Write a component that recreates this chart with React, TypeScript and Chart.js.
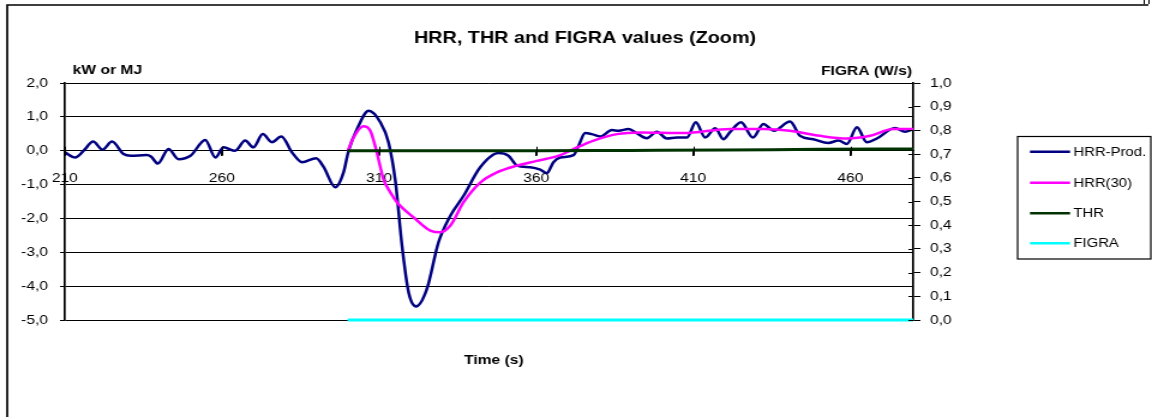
import React, { useEffect, useRef } from 'react';
import { Chart, registerables } from 'chart.js';

Chart.register(...registerables);

// ---------- data ----------
const hrrProdTime = [
  210, 213.3, 216, 219, 222, 225, 228.7, 231, 236, 237.5, 239.6, 243, 246.2, 250, 254.7, 257.9,
  260.5, 264.2, 267.4, 270, 273, 275.9, 278.9, 282.3, 285.5, 290, 292.3, 296.1, 298.7, 300.3,
  303, 306.7, 310.4, 313, 315.2, 317.3, 319.4, 321.8, 325.2, 328.9, 332.7, 336.9, 342.2, 348,
  351.2, 353.9, 358.1, 361.3, 363.4, 365.5, 367.7, 371.9, 373.5, 375.6, 377.7, 380.4, 384.1,
  386.2, 389.4, 392, 395.2, 398.4, 401.6, 404.8, 408, 410.8, 413.8, 417, 419.6, 421.7, 425.2,
  429, 432.3, 435.7, 440.8, 444, 448.2, 453, 456.2, 458.9, 462.1, 465.2, 468.4, 474.2, 477.4, 480,
];
const hrrProdValues = [
  -0.05, -0.2, 0.0, 0.27, 0.03, 0.27, -0.1, -0.15, -0.13, -0.18, -0.38, 0.05, -0.25, -0.15, 0.32, -0.2,
  0.1, 0.0, 0.3, 0.1, 0.49, 0.25, 0.42, -0.05, -0.34, -0.22, -0.47, -1.08, -0.64, 0.0,
  0.64, 1.18, 0.84, 0.25, -0.9, -2.8, -4.18, -4.6, -4.09, -2.71, -1.92, -1.33, -0.49, -0.07,
  -0.15, -0.44, -0.49, -0.56, -0.66, -0.34, -0.2, -0.13, 0.15, 0.52, 0.49, 0.42, 0.61,
  0.59, 0.64, 0.52, 0.37, 0.56, 0.36, 0.39, 0.39, 0.84, 0.39, 0.66, 0.34, 0.55, 0.84,
  0.39, 0.79, 0.59, 0.86, 0.44, 0.34, 0.23, 0.3, 0.2, 0.69, 0.25, 0.36, 0.67, 0.56, 0.64,
];

const hrr30Time = [
  300.1, 301.9, 305, 307.2, 309.3, 311.4, 313.6, 315.7, 321, 326.3, 329.5, 332.7, 336.9, 342.2,
  347.5, 353.9, 360.2, 367.7, 371.9, 378.3, 385.7, 393.1, 406.9, 421.7, 432.3, 440.8, 450.3,
  458.9, 466.3, 473.7, 480,
];
const hrr30Values = [
  0.0, 0.39, 0.72, 0.59, -0.05, -0.84, -1.23, -1.52, -1.97, -2.36, -2.41, -2.21, -1.52, -0.94,
  -0.64, -0.44, -0.3, -0.13, 0.05, 0.3, 0.49, 0.54, 0.52, 0.64, 0.64, 0.59, 0.44,
  0.36, 0.44, 0.64, 0.64,
];

const thrTime = [300, 330, 360, 390, 420, 450, 480];
const thrValues = [0, 0, 0, 0.01, 0.02, 0.04, 0.05];

const figraTime = [300, 360, 420, 480];
const figraValues = [0, 0, 0, 0];

const xTickValues = [210, 260, 310, 360, 410, 460];

const seriesNames = ['HRR-Prod.', 'HRR(30)', 'THR', 'FIGRA'];
const seriesColors = ['#000080', '#FF00FF', '#003300', '#00FFFF'];

const chartTitle = 'HRR, THR and FIGRA values (Zoom)';
const leftAxisTitle = 'kW or MJ';
const rightAxisTitle = 'FIGRA (W/s)';
const xAxisTitle = 'Time (s)';

// ---------- layout ----------
const INNER_W = 960;
const INNER_H = 417;
const OUTER_W = 1152;
const FONT = 'Arial, "Liberation Sans", sans-serif';

const toPoints = (xs: number[], ys: number[]) => xs.map((x, i) => ({ x, y: ys[i] }));
const comma = (v: number | string) => Number(v).toFixed(1).replace('.', ',');

const decorPlugin = {
  id: 'decor',
  beforeDraw(chart: any) {
    const ctx = chart.ctx;
    ctx.save();
    ctx.fillStyle = '#ffffff';
    ctx.fillRect(0, 0, chart.width, chart.height);
    ctx.strokeStyle = '#000';
    ctx.lineWidth = 1.7;
    ctx.beginPath();
    ctx.moveTo(6, INNER_H);
    ctx.lineTo(6, 5);
    ctx.lineTo(957, 5);
    ctx.stroke();
    ctx.lineWidth = 1;
    ctx.beginPath();
    ctx.moveTo(953.5, 0);
    ctx.lineTo(953.5, 4);
    ctx.moveTo(957.5, 0);
    ctx.lineTo(957.5, 4);
    ctx.stroke();
    ctx.restore();
  },
  afterDatasetsDraw(chart: any) {
    const ctx = chart.ctx;
    const xs = chart.scales.x;
    const ys = chart.scales.y;
    const y2 = chart.scales.y2;
    const y0 = ys.getPixelForValue(0);
    ctx.save();
    ctx.strokeStyle = '#000';
    ctx.lineWidth = 1;
    ctx.beginPath();
    xs.ticks.forEach((t: any) => {
      const px = Math.round(xs.getPixelForValue(t.value)) + 0.5;
      ctx.moveTo(px, y0 - 4);
      ctx.lineTo(px, y0 + 5);
    });
    y2.ticks.forEach((t: any) => {
      const py = Math.round(y2.getPixelForValue(t.value)) + 0.5;
      ctx.moveTo(y2.left - 4, py);
      ctx.lineTo(y2.left, py);
    });
    ctx.stroke();
    ctx.restore();
  },
  afterDraw(chart: any) {
    const ctx = chart.ctx;
    const area = chart.chartArea;
    ctx.save();
    ctx.fillStyle = '#000';
    ctx.textBaseline = 'alphabetic';

    ctx.font = `bold 16.5px ${FONT}`;
    ctx.textAlign = 'center';
    ctx.fillText(chartTitle, 487.5, 43);

    ctx.font = `bold 13px ${FONT}`;
    ctx.textAlign = 'left';
    ctx.fillText(leftAxisTitle, area.left + 6.6, 74);
    ctx.textAlign = 'right';
    ctx.fillText(rightAxisTitle, area.right - 1, 75);
    ctx.textAlign = 'center';
    ctx.fillText(xAxisTitle, (area.left + area.right) / 2 + 4, 364);

    // legend
    const bx = 848, by = 136.5, bw = 111, bh = 122.5;
    ctx.lineWidth = 1.2;
    ctx.strokeStyle = '#000';
    ctx.strokeRect(bx, by, bw, bh);
    const rows = [151.7, 182.7, 213.3, 243.3];
    ctx.font = `12.4px ${FONT}`;
    ctx.textAlign = 'left';
    ctx.textBaseline = 'middle';
    seriesNames.forEach((name, i) => {
      ctx.strokeStyle = seriesColors[i];
      ctx.lineWidth = 2.5;
      ctx.beginPath();
      ctx.moveTo(858.3, rows[i]);
      ctx.lineTo(891.7, rows[i]);
      ctx.stroke();
      ctx.fillStyle = '#000';
      ctx.fillText(name, 894.5, rows[i] + 0.5);
    });
    ctx.restore();
  },
};

export default function App() {
  const canvasRef = useRef<HTMLCanvasElement | null>(null);

  useEffect(() => {
    if (!canvasRef.current) return;
    const chart = new Chart(canvasRef.current, {
      type: 'line',
      data: {
        datasets: [
          {
            label: seriesNames[0],
            data: toPoints(hrrProdTime, hrrProdValues),
            borderColor: seriesColors[0],
            borderWidth: 2.5,
            pointRadius: 0,
            cubicInterpolationMode: 'monotone',
            yAxisID: 'y',
            order: 2,
          },
          {
            label: seriesNames[1],
            data: toPoints(hrr30Time, hrr30Values),
            borderColor: seriesColors[1],
            borderWidth: 2.5,
            pointRadius: 0,
            cubicInterpolationMode: 'monotone',
            yAxisID: 'y',
            order: 1,
          },
          {
            label: seriesNames[2],
            data: toPoints(thrTime, thrValues),
            borderColor: seriesColors[2],
            borderWidth: 3,
            pointRadius: 0,
            cubicInterpolationMode: 'monotone',
            yAxisID: 'y',
            order: 0,
          },
          {
            label: seriesNames[3],
            data: toPoints(figraTime, figraValues),
            borderColor: seriesColors[3],
            borderWidth: 3,
            pointRadius: 0,
            yAxisID: 'y2',
            order: 3,
            clip: 4,
          },
        ],
      },
      options: {
        animation: false,
        responsive: false,
        devicePixelRatio: 1,
        layout: { padding: { left: 0, top: 83, right: 149, bottom: 97 } },
        plugins: {
          legend: { display: false },
          title: { display: false },
          tooltip: { enabled: false },
        },
        scales: {
          x: {
            type: 'linear',
            min: 210,
            max: 480,
            position: { y: 0 } as any,
            afterBuildTicks: (scale: any) => {
              scale.ticks = xTickValues.map((value) => ({ value }));
            },
            ticks: {
              color: '#000',
              font: { family: FONT, size: 13 },
              padding: 15,
              maxRotation: 0,
              autoSkip: false,
              callback: (v: any) => String(v),
            },
            grid: { drawOnChartArea: false, drawTicks: true, tickLength: 5, color: '#000', lineWidth: 1 },
            border: { display: true, color: '#000', width: 1 },
          },
          y: {
            type: 'linear',
            position: 'left',
            min: -5,
            max: 2,
            afterFit: (scale: any) => {
              scale.width = 54;
            },
            ticks: {
              stepSize: 1,
              color: '#000',
              font: { family: FONT, size: 13 },
              padding: 10,
              callback: (v: any) => comma(v),
            },
            grid: { color: '#000', lineWidth: 1, drawTicks: true, tickLength: 4 },
            border: { display: true, color: '#000', width: 1.7 },
          },
          y2: {
            type: 'linear',
            position: 'right',
            min: 0,
            max: 1,
            afterFit: (scale: any) => {
              scale.width = 50;
            },
            ticks: {
              stepSize: 0.1,
              color: '#000',
              font: { family: FONT, size: 13 },
              padding: 8,
              callback: (v: any) => comma(v),
            },
            grid: { drawOnChartArea: false, drawTicks: true, tickLength: 6, color: '#000', lineWidth: 1 },
            border: { display: true, color: '#000', width: 1.7 },
          },
        },
      } as any,
      plugins: [decorPlugin],
    });
    return () => chart.destroy();
  }, []);

  return (
    <div style={{ position: 'fixed', left: 0, top: 0, width: OUTER_W, height: INNER_H, background: '#fff' }}>
      <canvas
        ref={canvasRef}
        width={INNER_W}
        height={INNER_H}
        style={{ width: `${OUTER_W}px`, height: `${INNER_H}px`, display: 'block' }}
      />
    </div>
  );
}
